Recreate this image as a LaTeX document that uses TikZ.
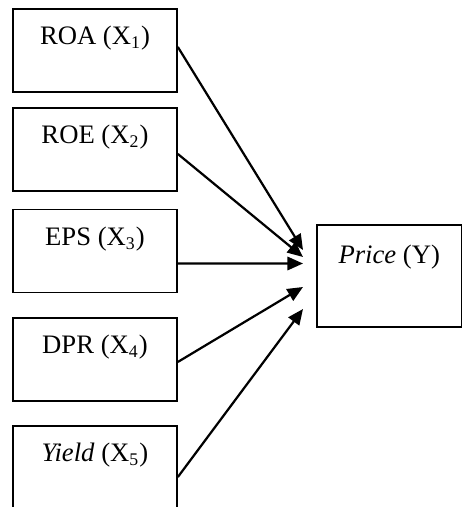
\documentclass[tikz,border=0pt]{standalone}
\usepackage{fontspec}
\setmainfont{Liberation Serif}
\usetikzlibrary{arrows.meta, positioning}
\tikzset{%
  factor/.style={draw, line width=0.75pt, rectangle, minimum width=73.8pt, minimum height=37.35pt,
    inner sep=0pt, text height=16pt, text depth=21.35pt},
  target/.style={draw, line width=0.75pt, rectangle, minimum width=65pt, minimum height=45.9pt,
    inner sep=0pt, text height=17.1pt, text depth=28.8pt},
  link/.style={line width=1pt, -{Triangle[length=7pt,width=6pt]}}
}

\begin{document}
\begin{tikzpicture}[x=0.45pt, y=-0.45pt, font=\fontsize{12}{14}\selectfont]
  \useasboundingbox (0,0) rectangle (462,507);
  \clip (0,0) rectangle (462,507);

  \node[factor] (x1) at (95,50.5) {ROA (X\textsubscript{1})};
  \node[factor] (x2) at (95,149.5) {ROE (X\textsubscript{2})};
  \node[factor] (x3) at (95,251) {EPS (X\textsubscript{3})};
  \node[factor] (x4) at (95,359.5) {DPR (X\textsubscript{4})};
  \node[factor] (x5) at (95,467.5) {\textit{Yield} (X\textsubscript{5})};

  \node[target] (y) at (389.25,276) {\textit{Price} (Y)};

  % arrow tips stop short of the price box
  \coordinate (t1) at (303,250);
  \coordinate (t2) at (303,257);
  \coordinate (t3) at (303,263.5);
  \coordinate (t4) at (303,287);
  \coordinate (t5) at (303,309);

  \draw[link] ([yshift=1.6pt]x1.east) -- (t1);
  \draw[link] ([yshift=-2pt]x2.east) -- (t2);
  \draw[link] ([yshift=-5.6pt]x3.east) -- (t3);
  \draw[link] ([yshift=-1.1pt]x4.east) -- (t4);
  \draw[link] ([yshift=-4.3pt]x5.east) -- (t5);
\end{tikzpicture}
\end{document}
